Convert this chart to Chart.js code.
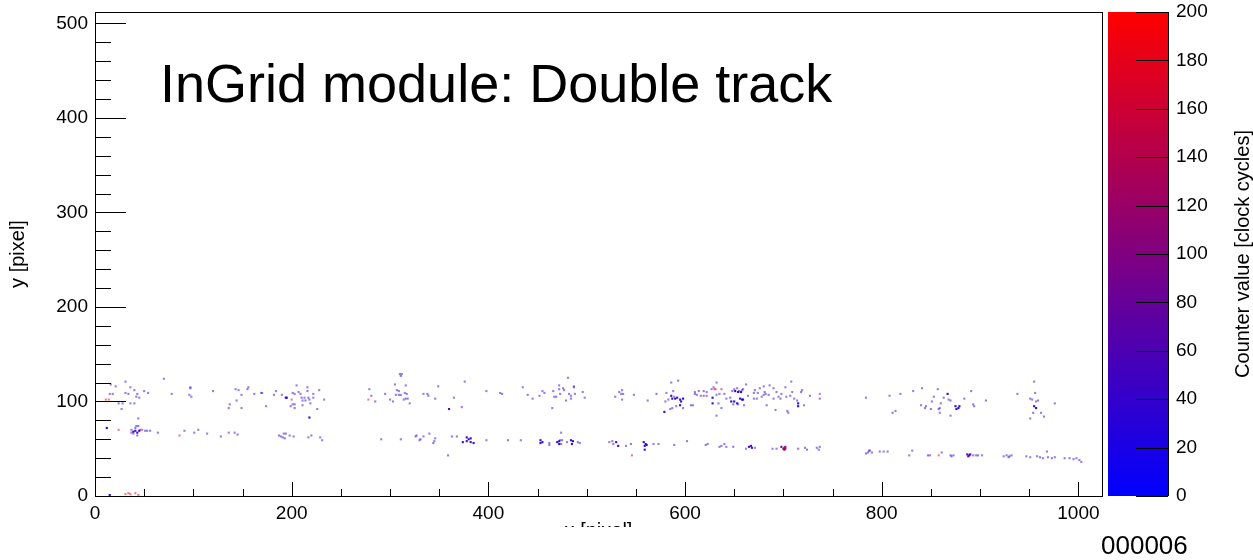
<!DOCTYPE html>
<html>
<head>
<meta charset="utf-8">
<script src="https://cdn.jsdelivr.net/npm/chart.js@4.4.1/dist/chart.umd.min.js"></script>
<style>
html, body { margin: 0; padding: 0; background: #fff; }
</style>
</head>
<body>
<canvas id="hitChart" width="1253" height="560"></canvas>
<script>
// axis labels
const xTicks = [0, 200, 400, 600, 800, 1000];
const yTicks = [0, 100, 200, 300, 400, 500];
const zTicks = [0, 20, 40, 60, 80, 100, 120, 140, 160, 180, 200];

// hits: [x pixel, y pixel, counter value]
const upperBand = [
    [31,121,40],[70,124,40],[16,118,40],[21,116,40],[36,115,40],[40,112,40],[15,108,40],[18,108,40],[31,109,40],[34,108,40],
    [43,108,40],[42,105,40],[45,104,40],[50,111,40],[54,109,40],[11,102,190],[14,102,190],[24,98,40],[28,98,40],[36,98,40],
    [40,98,40],[27,92,40],[78,108,40],[97,115,40],[97,114,40],[96,107,40],[98,105,40],[120,111,40],[143,113,40],[146,112,40],
    [149,107,40],[155,113,40],[156,115,40],[144,101,40],[137,97,40],[136,93,40],[149,93,40],
    [162,108,40],[169,109,40],[170,109,40],[184,111,40],[182,107,40],[190,107,40],[200,102,150],[205,117,40],[201,109,40],[203,108,40],
    [207,110,40],[209,108,40],[216,115,40],[216,111,40],[222,108,40],[228,112,40],[210,104,40],[213,104,40],[217,104,40],[218,102,40],
    [222,104,40],[211,101,40],[214,101,40],[219,98,40],[233,102,40],[211,96,40],[201,97,40],[203,97,40],[199,95,40],[203,93,40],
    [174,95,40],[226,92,40],
    [310,129,40],[312,129,40],[311,127,40],[305,118,40],[307,112,40],[309,111,40],[279,113,40],[281,106,40],[278,102,170],[285,100,40],
    [295,108,40],[300,102,40],[303,100,40],[306,107,40],[309,107,40],[311,107,40],[314,102,40],
    [316,117,40],[315,109,40],[317,108,40],[316,103,40],[318,103,40],[320,98,40],[349,116,40],[376,121,40],[334,108,40],[338,108,40],
    [339,106,40],[346,103,40],[365,104,40],[373,94,40],[398,111,40],[412,109,40],[414,108,40],[435,115,40],[440,107,40],[445,103,40],
    [452,106,40],[455,111,40],[457,109,40],[466,111,40],[467,105,40],[469,105,40],[472,117,40],[472,113,40],[465,93,40],
    [481,125,40],[476,114,40],[477,112,40],[487,116,40],[487,115,40],[473,108,40],[482,108,40],[484,106,40],[488,108,40],[496,110,40],
    [484,103,40],[479,101,40],[498,104,40],[533,110,40],[536,112,40],[535,108,40],[529,105,40],[537,108,40],[536,102,40],[548,107,40],
    [562,101,40],[571,108,40],[586,120,40],[593,122,40],[581,109,40],[588,111,40],[589,105,100],[583,102,40],[580,100,40],[591,95,40],
    [587,93,40],[585,92,40],[598,93,40],[606,96,40],[608,96,40],[610,108,40],[612,107,40],[610,110,40],[614,111,40],[616,106,40],
    [619,111,40],[622,110,40],[619,106,40],[622,106,40],[627,113,40],[629,115,40],[630,113,180],
    [632,120,40],[631,113,180],[637,113,130],[632,107,40],[635,108,40],[640,108,40],[634,98,40],[637,93,40],[632,85,40],[642,103,40],
    [646,104,40],[648,111,40],[650,113,40],[653,114,40],[655,111,40],[658,112,40],[659,113,40],[662,118,40],[649,97,40],[654,97,40],
    [660,96,40],[664,106,40],[670,109,40],[671,112,40],[674,109,40],[676,114,40],[680,116,40],[681,110,40],[682,108,40],[685,107,40],
    [678,105,40],[680,107,40],[670,103,40],[673,103,40],[683,96,40],[686,117,40],[690,114,40],[693,110,40],[695,105,40],[698,108,40],
    [702,115,40],[708,121,40],[692,91,40],[690,103,40],[697,103,40],[703,105,40],[707,106,40],[709,110,40],[711,103,40],[714,101,40],
    [704,90,40],[705,88,40],[718,110,40],[719,112,40],[721,96,40],[727,106,40],[737,108,130],[737,103,40],[784,104,40],
    [841,114,40],[832,111,40],[857,113,40],[891,111,40],[819,108,40],[808,106,40],[853,105,40],[851,100,40],[863,104,40],[868,102,40],
    [870,101,40],[860,98,40],[884,103,40],[906,101,40],[840,96,40],[845,95,40],[844,93,40],[850,92,40],[858,92,40],[859,93,40],
    [859,88,40],[870,85,40],[814,90,40],[811,88,40],[893,97,40],[894,95,40],[938,108,40],
    [955,121,40],[956,109,40],[951,103,40],[953,102,40],[957,100,40],[959,101,40],[954,88,40],[962,88,40],[965,84,40],[951,82,40],
    [976,98,40]
];
const lowerBand = [
    [44,82,40],[24,70,180],[42,74,40],[44,74,40],[37,70,40],[41,72,40],[46,70,40],[37,67,40],[39,66,40],[43,64,40],
    [48,70,150],[51,69,40],[53,69,40],[56,69,40],[64,67,40],[86,64,190],[91,69,40],[101,67,40],[105,70,40],[114,66,40],
    [128,63,40],[136,67,40],[142,67,40],[145,65,40],
    [187,64,40],[189,63,40],[191,62,40],[193,61,40],[192,66,40],[194,66,40],[198,64,40],[202,63,40],[217,62,40],[220,64,40],
    [229,62,40],[231,59,40],[291,60,40],[311,60,40],
    [327,64,40],[326,63,40],[331,60,40],[330,59,40],[334,63,40],[340,66,40],[346,61,40],[345,58,40],[344,56,40],[363,63,40],
    [368,63,40],[398,59,40],[420,59,40],[433,59,40],[462,56,40],[462,54,40],[359,43,40],
    [474,67,40],[473,59,40],[475,59,40],[474,55,40],[480,57,40],[491,57,40],[493,56,40],[523,57,40],[526,58,40],[527,55,40],
    [540,53,40],[545,55,40],[546,43,150],[568,55,40],[573,55,40],[589,54,40],[602,58,40],[621,54,40],[623,55,40],
    [635,52,40],[637,53,40],[640,55,40],[642,52,40],[649,52,40],[662,50,40],[671,51,40],[689,50,40],[693,50,40],[715,50,40],
    [722,51,40],[724,49,40],[734,51,40],[736,49,40],[737,52,40],[784,45,40],[786,46,40],[787,48,40],
    [788,48,40],[790,46,40],[798,47,40],[802,47,40],[806,47,40],[831,48,40],[828,43,40],[847,43,40],[849,43,40],[858,43,170],
    [861,46,40],[870,43,40],[871,42,40],[873,43,40],[893,43,40],[896,43,40],[898,43,40],[902,43,40],[924,42,40],[927,43,40],
    [929,41,40],[930,42,40],[932,43,40],
    [958,42,40],[961,41,40],[964,40,40],[968,47,40],[969,41,40],[973,40,40],[976,41,40],[986,40,40],[991,40,40],[995,39,40],
    [998,40,40],[1001,38,40],[1003,36,40],[947,42,40],[951,41,40]
];
const edgeHits = [[31,2,190],[34,3,190],[36,2,190],[41,3,190],[44,1,190]];
// dense pixels (drawn solid)
const clusterPixels = [
    [12,72,10],[15,1,10],[39,68,40],[41,69,40],[43,67,40],[45,69,40],
    [194,104,30],[195,104,30],[218,83,20],[360,92,50],
    [378,62,40],[380,60,40],[382,61,40],[378,58,40],[374,57,40],[382,57,40],[385,56,40],[453,59,40],[455,57,40],[453,56,40],
    [470,57,40],[472,58,40],[472,55,40],
    [586,106,30],[587,103,30],[590,103,30],[592,104,30],[595,102,30],[598,103,30],[596,100,30],[595,96,30],[579,89,20],[628,104,30],
    [628,98,30],
    [484,59,40],[485,55,40],[486,58,40],[530,57,40],[532,53,40],[558,57,40],[560,55,40],[561,54,40],[559,53,40],[559,49,40],
    [651,111,30],[654,110,30],[657,110,30],[647,100,30],[650,100,30],[653,98,30],[656,103,30],[658,102,30],[659,102,30],[715,98,30],
    [715,95,30],
    [665,52,50],[667,53,50],[668,51,50],[698,52,80],[700,50,120],[702,50,130],[702,52,110],[701,49,100],[701,51,140],
    [867,108,30],[875,95,30],[876,92,30],[878,93,30],[879,95,30],
    [887,44,60],[889,43,60],[890,44,60],[888,42,60],
    [955,95,30],[957,93,30]
];

const FONT = "'Liberation Sans', Arial, sans-serif";

function zColor(v, a) {
    const t = Math.max(0, Math.min(1, v / 200));
    return `rgba(${Math.round(255 * t)},0,${Math.round(255 * (1 - t))},${a})`;
}

const faint = upperBand.concat(lowerBand, edgeHits);

const framePlugin = {
    id: 'frame',
    afterDraw(chart) {
        const ctx = chart.ctx;
        const a = chart.chartArea;
        const xs = chart.scales.x, ys = chart.scales.y, zs = chart.scales.z, gs = chart.scales.gap;
        ctx.save();
        ctx.strokeStyle = '#000';
        ctx.lineWidth = 1;
        ctx.strokeRect(Math.round(a.left) + 0.5, Math.round(a.top) + 0.5, Math.round(a.right - a.left), Math.round(a.bottom - a.top));

        // ticks inside the frame
        ctx.beginPath();
        for (let v = 0; v <= xs.max; v += 50) {
            const px = Math.round(xs.getPixelForValue(v)) + 0.5;
            const len = xTicks.includes(v) ? 14 : 7;
            ctx.moveTo(px, a.bottom);
            ctx.lineTo(px, a.bottom - len);
        }
        for (let v = 0; v <= ys.max; v += 20) {
            const py = Math.round(ys.getPixelForValue(v)) + 0.5;
            const len = yTicks.includes(v) ? 31 : 16;
            ctx.moveTo(a.left, py);
            ctx.lineTo(a.left + len, py);
        }
        ctx.stroke();

        // colour bar
        const barL = Math.round(gs.left) + 6, barR = Math.round(zs.left);
        const g = ctx.createLinearGradient(0, zs.getPixelForValue(0), 0, zs.getPixelForValue(200));
        g.addColorStop(0, zColor(0, 1));
        g.addColorStop(0.5, zColor(100, 1));
        g.addColorStop(1, zColor(200, 1));
        ctx.fillStyle = g;
        ctx.fillRect(barL, zs.top, barR - barL, zs.bottom - zs.top);
        ctx.beginPath();
        zTicks.forEach(v => {
            const py = Math.round(zs.getPixelForValue(v)) + 0.5;
            ctx.moveTo(barR - 32, py);
            ctx.lineTo(barR, py);
        });
        ctx.moveTo(barR + 0.5, zs.top);
        ctx.lineTo(barR + 0.5, zs.bottom);
        ctx.stroke();

        // titles
        ctx.fillStyle = '#000';
        ctx.font = `54px ${FONT}`;
        ctx.textAlign = 'left';
        ctx.textBaseline = 'alphabetic';
        ctx.fillText('InGrid module: Double track', 160, 102);

        ctx.font = `20px ${FONT}`;
        ctx.textAlign = 'center';
        ctx.textBaseline = 'middle';
        ctx.save();
        ctx.translate(18, (a.top + a.bottom) / 2);
        ctx.rotate(-Math.PI / 2);
        ctx.fillText('y [pixel]', 0, 0);
        ctx.restore();

        ctx.save();
        ctx.translate(1243, (zs.top + zs.bottom) / 2);
        ctx.rotate(-Math.PI / 2);
        ctx.fillText('Counter value [clock cycles]', 0, 0);
        ctx.restore();

        // x title is cut off at the bottom in the original
        ctx.save();
        ctx.beginPath();
        ctx.rect(0, 518, chart.width, 9);
        ctx.clip();
        ctx.textBaseline = 'top';
        ctx.fillText('x [pixel]', (a.left + a.right) / 2, 521);
        ctx.restore();

        ctx.font = `26px ${FONT}`;
        ctx.textAlign = 'left';
        ctx.textBaseline = 'alphabetic';
        ctx.fillText('000006', 1101, 554);
        ctx.restore();
    }
};

const plainLabel = v => String(v);
// keep the plot frame where the original has it, labels may overhang
const noEdgePad = s => { s.paddingTop = 0; s.paddingBottom = 0; };

const ctx = document.getElementById('hitChart').getContext('2d');
const hitChart = new Chart(ctx, {
    type: 'scatter',
    data: {
        datasets: [
            {
                label: 'hits',
                data: faint.map(p => ({ x: p[0], y: p[1] })),
                backgroundColor: faint.map(p => zColor(p[2], 0.5)),
                pointStyle: 'rect',
                pointRadius: 1.5,
                borderWidth: 0
            },
            {
                label: 'clusters',
                data: clusterPixels.map(p => ({ x: p[0], y: p[1] })),
                backgroundColor: clusterPixels.map(p => zColor(p[2], 0.95)),
                pointStyle: 'rect',
                pointRadius: 1.5,
                borderWidth: 0
            }
        ]
    },
    options: {
        responsive: false,
        animation: false,
        devicePixelRatio: 1,
        layout: { padding: { top: 12, right: 0, bottom: 0, left: 0 } },
        plugins: {
            legend: { display: false },
            tooltip: { enabled: false }
        },
        scales: {
            x: {
                type: 'linear',
                min: 0,
                max: 1024,
                afterBuildTicks: s => { s.ticks = xTicks.map(v => ({ value: v })); },
                afterFit: s => { s.height = 64; s.paddingLeft = 0; s.paddingRight = 0; },
                grid: { display: false, drawTicks: false },
                border: { display: false },
                ticks: { color: '#000', font: { family: FONT, size: 19 }, padding: 6, maxRotation: 0, autoSkip: false, callback: plainLabel }
            },
            y: {
                type: 'linear',
                min: 0,
                max: 512,
                afterBuildTicks: s => { s.ticks = yTicks.map(v => ({ value: v })); },
                afterFit: s => { s.width = 95; noEdgePad(s); },
                grid: { display: false, drawTicks: false },
                border: { display: false },
                ticks: { color: '#000', font: { family: FONT, size: 19 }, padding: 7, autoSkip: false, callback: plainLabel }
            },
            gap: {
                type: 'linear',
                position: 'right',
                weight: 0,
                afterFit: s => { s.width = 66; noEdgePad(s); },
                grid: { display: false, drawTicks: false },
                border: { display: false },
                ticks: { display: false }
            },
            z: {
                type: 'linear',
                position: 'right',
                weight: 1,
                min: 0,
                max: 200,
                afterBuildTicks: s => { s.ticks = zTicks.map(v => ({ value: v })); },
                afterFit: s => { s.width = 85; noEdgePad(s); },
                grid: { display: false, drawTicks: false },
                border: { display: false },
                ticks: { color: '#000', font: { family: FONT, size: 19 }, padding: 8, autoSkip: false, callback: plainLabel }
            }
        }
    },
    plugins: [framePlugin]
});
</script>
</body>
</html>
